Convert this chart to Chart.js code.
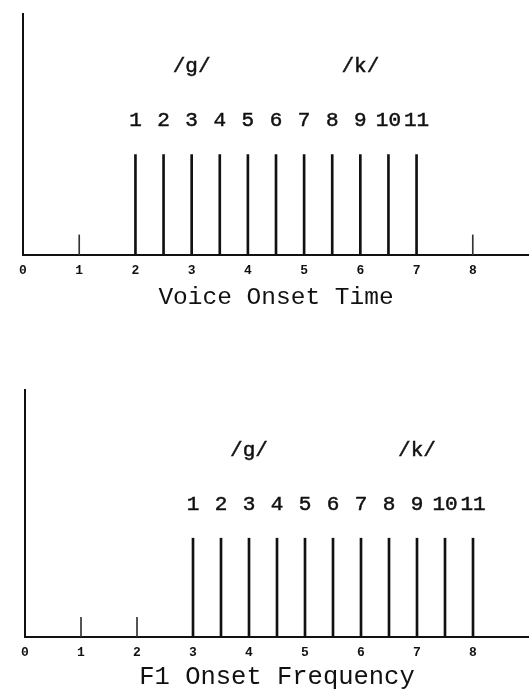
<!DOCTYPE html>
<html>
<head>
<meta charset="utf-8">
<script src="https://cdn.jsdelivr.net/npm/chart.js@4"></script>
<style>
  html, body { margin: 0; padding: 0; background: #fff; }
  body { width: 529px; height: 693px; position: relative; overflow: hidden; }
  .panel { position: absolute; left: 0; width: 529px; }
  canvas { display: block; }
</style>
</head>
<body>
<div class="panel" style="top:0;height:320px"><canvas id="vot" width="529" height="320"></canvas></div>
<div class="panel" style="top:330px;height:363px"><canvas id="f1" width="529" height="363"></canvas></div>
<script>
// Stimulus numbering shown above each continuum step
const stimulusNumbers = ['1', '2', '3', '4', '5', '6', '7', '8', '9', '10', '11'];

// Voice onset time continuum
const votStimuli = [2, 2.5, 3, 3.5, 4, 4.5, 5, 5.5, 6, 6.5, 7];
const votLevels = [5, 5, 5, 5, 5, 5, 5, 5, 5, 5, 5];
const votMarks = [1, 8];
const votMarkLevels = [1, 1];
const votPhonemes = ['/g/', '/k/'];
const votPhonemeAt = [3, 6];

// F1 onset frequency continuum
const f1Stimuli = [3, 3.5, 4, 4.5, 5, 5.5, 6, 6.5, 7, 7.5, 8];
const f1Levels = [5, 5, 5, 5, 5, 5, 5, 5, 5, 5, 5];
const f1Marks = [1, 2];
const f1MarkLevels = [1, 1];
const f1Phonemes = ['/g/', '/k/'];
const f1PhonemeAt = [4, 7];

// Labelled positions on the horizontal axis
const axisTicks = [0, 1, 2, 3, 4, 5, 6, 7, 8];

const INK = '#111';
const MONO = '"Liberation Mono", "Courier New", monospace';

// Writes the stimulus numbers over each bar and the phoneme labels above them
const stimulusText = {
  id: 'stimulusText',
  afterDatasetsDraw(chart, args, opts) {
    const ctx = chart.ctx;
    const xScale = chart.scales.x;
    const bars = chart.getDatasetMeta(0).data;
    const put = (text, x, y) => {
      ctx.fillText(text, x, y);
      ctx.strokeText(text, x, y);
    };
    ctx.save();
    ctx.fillStyle = INK;
    ctx.strokeStyle = INK;
    ctx.lineWidth = 0.5;
    ctx.textAlign = 'center';
    ctx.textBaseline = 'middle';
    ctx.font = opts.numberFont;
    bars.forEach((bar, i) => put(opts.numbers[i], bar.x, bar.y - opts.numberGap));
    const barTop = Math.min(...bars.map(b => b.y));
    ctx.font = opts.phonemeFont;
    opts.phonemes.forEach((text, i) => {
      put(text, xScale.getPixelForValue(opts.phonemeAt[i]), barTop - opts.phonemeGap);
    });
    ctx.restore();
  }
};

function buildPanel(canvasId, cfg) {
  return new Chart(document.getElementById(canvasId), {
    type: 'bar',
    data: {
      datasets: [
        {
          data: cfg.stimuli.map((x, i) => ({ x: x, y: cfg.levels[i] })),
          backgroundColor: INK,
          grouped: false,
          barThickness: 2,
          maxBarThickness: 2
        },
        {
          data: cfg.marks.map((x, i) => ({ x: x, y: cfg.markLevels[i] })),
          backgroundColor: '#333',
          grouped: false,
          barThickness: 1,
          maxBarThickness: 1
        }
      ]
    },
    options: {
      responsive: false,
      animation: false,
      events: [],
      layout: { padding: { top: cfg.top, left: 0, right: 0, bottom: 0 } },
      plugins: {
        legend: { display: false },
        tooltip: { enabled: false },
        stimulusText: {
          numbers: stimulusNumbers,
          numberFont: '21px ' + MONO,
          numberGap: 34,
          phonemes: cfg.phonemes,
          phonemeAt: cfg.phonemeAt,
          phonemeFont: '21px ' + MONO,
          phonemeGap: 88
        }
      },
      scales: {
        x: {
          type: 'linear',
          min: 0,
          max: 9,
          offset: false,
          grid: { display: false, drawTicks: false },
          border: { display: true, width: 2, color: INK },
          ticks: {
            stepSize: 1,
            autoSkip: false,
            maxRotation: 0,
            padding: 8,
            color: INK,
            font: { family: MONO, size: 13, weight: 'bold' },
            callback: v => axisTicks.includes(v) ? String(v) : ''
          },
          title: {
            display: true,
            text: cfg.title,
            color: INK,
            font: { family: MONO, size: cfg.titleSize },
            padding: { top: 0, bottom: cfg.titlePad }
          },
          afterFit(scale) {
            scale.height = cfg.axisHeight;
            // the axis line runs to the right edge of the canvas
            scale.paddingRight = 0;
          }
        },
        y: {
          min: 0,
          max: cfg.yMax,
          grid: { display: false, drawTicks: false },
          border: { display: true, width: 2, color: INK },
          ticks: { display: false },
          afterFit(scale) { scale.width = cfg.left; }
        }
      }
    },
    plugins: [stimulusText]
  });
}

buildPanel('vot', {
  stimuli: votStimuli, levels: votLevels,
  marks: votMarks, markLevels: votMarkLevels,
  phonemes: votPhonemes, phonemeAt: votPhonemeAt,
  title: 'Voice Onset Time', titleSize: 24.5,
  top: 14, left: 23, axisHeight: 65, titlePad: 8, yMax: 12
});

buildPanel('f1', {
  stimuli: f1Stimuli, levels: f1Levels,
  marks: f1Marks, markLevels: f1MarkLevels,
  phonemes: f1Phonemes, phonemeAt: f1PhonemeAt,
  title: 'F1 Onset Frequency', titleSize: 25.5,
  top: 60, left: 25, axisHeight: 56, titlePad: 0, yMax: 12.5
});
</script>
</body>
</html>
